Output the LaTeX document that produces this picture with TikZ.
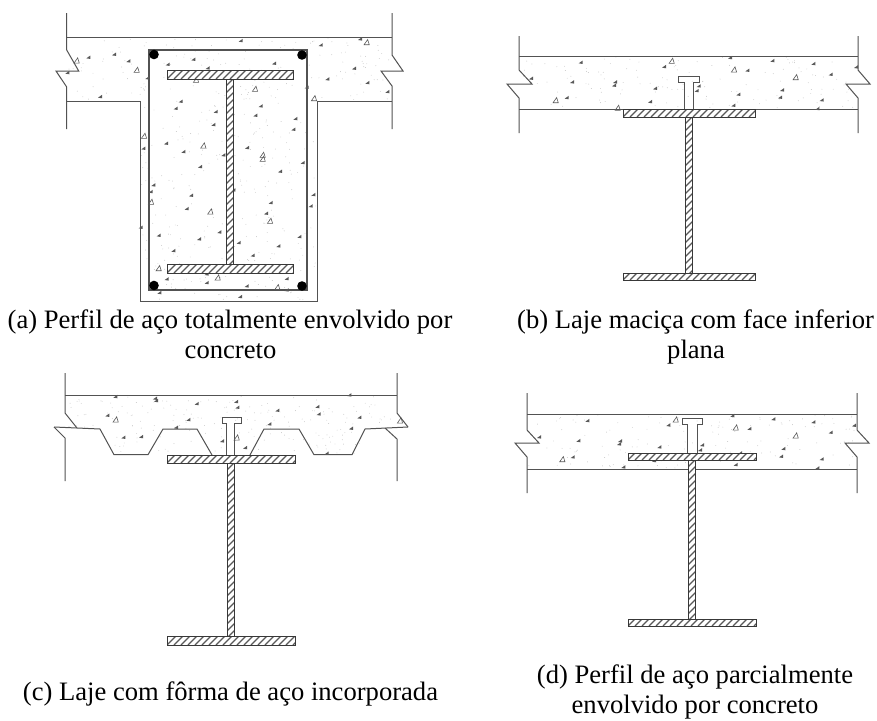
\documentclass[tikz,border=0pt]{standalone}
\usepackage{fontspec}
\setmainfont{Liberation Serif}
\newcommand{\hatchbox}[4]{% x1,y1,x2,y2
  \begin{scope}
    \clip (#1,#2) rectangle (#3,#4);
    \fill[white] (#1,#2) rectangle (#3,#4);
    \pgfmathsetmacro{\hh}{#4-#2}
    \foreach \hx in {#1,\the\numexpr#1+7\relax,...,\the\numexpr#3+20\relax}
      \draw[hatchline] (\hx,#4) -- ++(\hh+1,-\hh-1);
  \end{scope}
  \draw[steel] (#1,#2) rectangle (#3,#4);
}
\newcommand{\vhatch}[4]{% x1,y1,x2,y2 web
  \begin{scope}
    \clip (#1,#2) rectangle (#3,#4);
    \fill[white] (#1,#2) rectangle (#3,#4);
    \foreach \hy in {#2,\the\numexpr#2+7\relax,...,\the\numexpr#4+14\relax}
      \draw[hatchline] (#1,\hy) -- ++(9,-9);
  \end{scope}
  \draw[steel] (#1,#2) rectangle (#3,#4);
}
\newcommand{\speckle}[5]{% x1,y1,x2,y2,n
  \foreach \si in {1,...,#5}{
    \pgfmathsetmacro{\sx}{#1+rnd*(#3-#1)}
    \pgfmathsetmacro{\sy}{#2+rnd*(#4-#2)}
    \fill[black!22] (\sx,\sy) circle (0.45);
  }
}
\newcommand{\pebbles}[3]{% offset x, offset y, list in 3x zoom coordinates
  \foreach \px/\py in {#3}
    \fill[black!65] ({#1+\px/3-2},{#2+\py/3+1}) -- ++(4,-2.8) -- ++(0,3.4) -- cycle;
}
\newcommand{\stones}[3]{%
  \foreach \px/\py in {#3}
    \draw[black!65,line width=0.6pt] ({#1+\px/3-2.6},{#2+\py/3+2.4}) -- ++(3.6,-5.2) -- ++(1.6,5.2) -- cycle;
}
\tikzset{
  slab/.style={draw=black!68,line width=1pt,line join=miter},
  steel/.style={draw=black!78,line width=1pt},
  hatchline/.style={draw=black!65,line width=1.2pt},
  caption/.style={font=\fontsize{26.6}{30}\selectfont,text=black,inner sep=0pt,anchor=base}
}
\begin{document}
\begin{tikzpicture}[x=1pt,y=-1pt]
\useasboundingbox (0,0) rectangle (877,720);
\fill[white] (0,0) rectangle (877,720);
\pgfmathsetseed{4217}
% ---------- (a)
\speckle{68}{38}{391}{100}{160}
\speckle{141}{100}{316}{300}{240}
\draw[slab] (66.7,13) -- (66.7,50) -- (78.7,71) -- (56,71) -- (66.7,87) -- (66.7,129);
\draw[slab] (392,13) -- (392,55) -- (403,71) -- (381,71) -- (392,86) -- (392,129);
\draw[slab] (66.7,37) -- (392,37);
\draw[slab] (66.7,101) -- (140,101) -- (140,301) -- (317,301) -- (317,101) -- (392,101);
\draw[slab,line width=1.2pt] (149,50) rectangle (307,290);
\pebbles{30}{0}{632/122,872/135,990/117,175/172,252/163,295/183,112/218,352/234,490/178,413/193,732/190,972/205,1012/248,892/237,830/262,1072/275,533/204,210/290,452/304,437/325,557/335,692/318,676/346,796/356,790/388,550/374,408/430,460/455,651/443,580/465,510/500,750/514,818/488,370/555,362/575,483/586,610/570,470/626,722/608,708/640,850/584,842/618,332/682,386/706,507/717,568/696,808/710,626/728,430/752,745/738,668/766,410/837,530/822,770/836,530/848,650/858,770/870,630/890,388/878,340/445}
\stones{30}{0}{1010/127,140/182,320/210,498/240,675/267,852/295,342/408,520/437,698/465,698/477,363/606,541/635,720/663,563/833,742/862,386/805}
\vhatch{226}{79}{233}{264}
\hatchbox{167}{70}{293}{79}
\hatchbox{167}{264}{293}{273}
\fill[black] (154,54.5) circle (4.8) (302,55) circle (4.8) (154,285.5) circle (4.8) (302,286) circle (4.8);
% ---------- (b)
\speckle{520}{57}{857}{108}{130}
\draw[slab] (519,36) -- (519,70) -- (532,84) -- (507,84) -- (519,98) -- (519,133);
\draw[slab] (858,36) -- (858,70) -- (870,84) -- (846,84) -- (858,98) -- (858,133);
\draw[slab] (519,56) -- (858,56);
\draw[slab] (519,109) -- (858,109);
\draw[slab] (684,109) -- (684,82) -- (678,82) -- (678,76) -- (699,76) -- (699,82) -- (693,82) -- (693,109);
\pebbles{490}{20}{272/127,522/140,720/113,847/122,970/131,1098/141,1022/163,772/151,123/175,246/186,375/186,372/196,495/205,626/198,620/212,745/223,876/210,870/232,995/240,230/233,480/245,730/256,982/266}
\stones{490}{20}{545/123,732/149,917/172,197/241,383/264}
\vhatch{685}{117}{692}{273}
\hatchbox{623}{109}{755}{117}
\hatchbox{623}{273}{755}{280}
% ---------- (c)
\speckle{66}{396}{396}{428}{120}
\speckle{115}{428}{350}{454}{50}
\speckle{315}{428}{365}{454}{15}
\draw[slab] (65,373) -- (65,413) -- (77,428);
\draw[slab] (54,427) -- (65,438) -- (65,481);
\draw[slab] (397,373) -- (397,413) -- (408,427);
\draw[slab] (385,428) -- (397,439) -- (397,481);
\draw[slab] (65,395) -- (397,395);
\draw[slab] (54,427) -- (100,429) -- (114,454.7) -- (148,454.7) -- (163,429) -- (197,429) -- (212,455);
\draw[slab] (250,455) -- (264,429) -- (299,429) -- (314,454.7) -- (352,454.7) -- (365,429) -- (408,427);
\draw[slab] (226,455) -- (226,423) -- (222,423) -- (222,417) -- (241,417) -- (241,423) -- (234,423) -- (234,455);
\pebbles{30}{360}{256/110,375/115,378/122,500/131,618/125,622/142,742/151,862/140,866/162,988/172,232/166,475/179,718/192,963/205,280/232,333/230,438/202,576/243,645/263,890/280,958/105}
\stones{30}{360}{257/179,620/233,1110/182}
\vhatch{227}{463}{234}{636}
\hatchbox{167}{455}{295}{463}
\hatchbox{167}{636}{295}{645}
% ---------- (d)
\speckle{528}{415}{856}{468}{130}
\draw[slab] (527,393) -- (527,430) -- (539,443) -- (515,443) -- (527,457) -- (527,493);
\draw[slab] (857,393) -- (857,430) -- (869,443) -- (845,443) -- (857,457) -- (857,493);
\draw[slab] (527,414) -- (857,414);
\draw[slab] (527,469) -- (857,469);
\draw[slab] (687,453) -- (687,424) -- (682,424) -- (682,418) -- (702,418) -- (702,424) -- (697,424) -- (697,453);
\pebbles{490}{370}{292/152,535/165,727/137,850/147,970/156,1092/166,1022/187,778/176,147/201,265/212,390/213,387/222,508/231,636/225,630/240,880/236,873/259,995/267,248/261,492/272,737/284,400/291,982/294,750/249}
\stones{490}{370}{557/149,737/173,917/197,217/268}
\vhatch{688}{460}{695}{619}
\hatchbox{628}{453}{756}{460}
\hatchbox{628}{619}{756}{626}
% ---------- captions
\node[caption] (capa) at (230,328) {(a) Perfil de aço totalmente envolvido por};
\node[caption] (capaa) at (230.5,358) {concreto};
\node[caption] (capb) at (695.5,328) {(b) Laje maciça com face inferior};
\node[caption] (capbb) at (696,358) {plana};
\node[caption] (capc) at (230.5,700) {(c) Laje com fôrma de aço incorporada};
\node[caption] (capd) at (695,683) {(d) Perfil de aço parcialmente};
\node[caption] (capdd) at (695,713) {envolvido por concreto};
\end{tikzpicture}
\end{document}
